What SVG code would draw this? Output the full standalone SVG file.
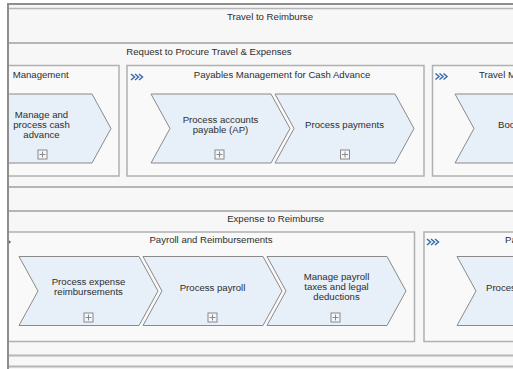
<svg xmlns="http://www.w3.org/2000/svg" xmlns:xlink="http://www.w3.org/1999/xlink" width="513" height="369" viewBox="0 0 513 369">
<style>
text{font-family:"Liberation Sans",Arial,sans-serif;font-size:9.6px;fill:#2e2e2e}
.c{text-anchor:middle}
.s{text-anchor:start}
.sec{stroke:#b5b5b5;stroke-width:2;fill:none}
.box{fill:#f9f9f9;stroke:#b0b0b0;stroke-width:1.5}
.chev{fill:#e7eff8;stroke:#8a8a8a;stroke-width:1}
.tri{fill:none;stroke:#3a6db0;stroke-width:1.5}
.ic{fill:#f3f7fb;stroke:#8a8a8a;stroke-width:1}
.pl{stroke:#8a8a8a;stroke-width:1}
</style>
<defs>
<clipPath id="clip"><rect x="9" y="5" width="504" height="364"/></clipPath>
<path id="tri" class="tri" d="M0 0l3.5 3l-3.5 3M4 0l3.5 3l-3.5 3M8 0l3.5 3l-3.5 3"/>
<g id="plus"><rect class="ic" x="-4.5" y="0.5" width="9" height="9"/><path class="pl" d="M-3 5h6M0 2v6"/></g>
</defs>
<rect width="513" height="369" fill="#ffffff"/>
<rect x="8" y="4" width="505" height="365" fill="#f7f7f7"/>
<g clip-path="url(#clip)">
<g id="sections">
<line class="sec" x1="8" y1="8.5" x2="513" y2="8.5" style="stroke-width:1.5"/>
<line class="sec" x1="8" y1="43" x2="513" y2="43"/>
<line class="sec" x1="8" y1="187" x2="513" y2="187"/>
<line class="sec" x1="8" y1="211" x2="513" y2="211"/>
<line class="sec" x1="8" y1="355.5" x2="513" y2="355.5"/>
<line class="sec" x1="8" y1="366.5" x2="513" y2="366.5"/>
<text class="c" x="270" y="19.5">Travel to Reimburse</text>
<text class="c" x="209" y="55">Request to Procure Travel &amp; Expenses</text>
<text class="c" x="275.7" y="221.5">Expense to Reimburse</text>
</g>
<g id="box-management">
<rect class="box" x="-200" y="65.5" width="319" height="110.5"/>
<text class="s" x="12.7" y="77.5">Management</text>
</g>
<g id="box-payables">
<rect class="box" x="127" y="65.5" width="297" height="110.5"/>
<use xlink:href="#tri" href="#tri" x="131" y="74"/>
<text class="c" x="282" y="77.5">Payables Management for Cash Advance</text>
</g>
<g id="box-travel">
<rect class="box" x="432.5" y="65.5" width="120" height="110.5"/>
<use xlink:href="#tri" href="#tri" x="435.5" y="73.5"/>
<text class="s" x="479" y="77.5">Travel M</text>
</g>
<g id="box-payroll">
<rect class="box" x="-4" y="232" width="418.5" height="109.5"/>
<use xlink:href="#tri" href="#tri" x="-1.5" y="239"/>
<text class="c" x="211" y="243">Payroll and Reimbursements</text>
</g>
<g id="box-p">
<rect class="box" x="424" y="232" width="120" height="109.5"/>
<use xlink:href="#tri" href="#tri" x="427" y="239"/>
<text class="s" x="505" y="243">Pa</text>
</g>
<g id="node-cash-advance">
<path class="chev" d="M-28 94H92L111 128.5L92 163H-28L-9 128.5Z"/>
<text class="c" x="41.5" y="118">Manage and</text>
<text class="c" x="41.5" y="128">process cash</text>
<text class="c" x="41.5" y="138">advance</text>
<use xlink:href="#plus" href="#plus" x="42.5" y="149.5"/>
</g>
<g id="node-ap">
<path class="chev" d="M151 94H271L290 128.5L271 163H151L170 128.5Z"/>
<text class="c" x="220.5" y="123">Process accounts</text>
<text class="c" x="220.5" y="133">payable (AP)</text>
<use xlink:href="#plus" href="#plus" x="219.5" y="149.5"/>
</g>
<g id="node-payments">
<path class="chev" d="M275 94H395L414 128.5L395 163H275L294 128.5Z"/>
<text class="c" x="344.5" y="128">Process payments</text>
<use xlink:href="#plus" href="#plus" x="345" y="149.5"/>
</g>
<g id="node-book">
<path class="chev" d="M455 94H575L594 128.5L575 163H455L474 128.5Z"/>
<text class="s" x="498" y="128">Boo</text>
</g>
<g id="node-expense">
<path class="chev" d="M19 256.5H139L158 291L139 325.5H19L38 291Z"/>
<text class="c" x="88.5" y="284.5">Process expense</text>
<text class="c" x="88.5" y="294.5">reimbursements</text>
<use xlink:href="#plus" href="#plus" x="88.5" y="312.5"/>
</g>
<g id="node-payroll">
<path class="chev" d="M143 256.5H263L282 291L263 325.5H143L162 291Z"/>
<text class="c" x="212.5" y="290.5">Process payroll</text>
<use xlink:href="#plus" href="#plus" x="212.5" y="312.5"/>
</g>
<g id="node-taxes">
<path class="chev" d="M267 256.5H387L406 291L387 325.5H267L286 291Z"/>
<text class="c" x="336.5" y="280">Manage payroll</text>
<text class="c" x="336.5" y="290">taxes and legal</text>
<text class="c" x="336.5" y="300">deductions</text>
<use xlink:href="#plus" href="#plus" x="335.5" y="312.5"/>
</g>
<g id="node-proces">
<path class="chev" d="M457 256.5H577L596 291L577 325.5H457L476 291Z"/>
<text class="s" x="486" y="290.5">Proces</text>
</g>
<g id="connectors"/>
</g>
<g id="frame">
<line x1="8" y1="4" x2="513" y2="4" stroke="#8e8e8e" stroke-width="2"/>
<line x1="8" y1="3" x2="8" y2="369" stroke="#8e8e8e" stroke-width="2"/>
</g>
</svg>
